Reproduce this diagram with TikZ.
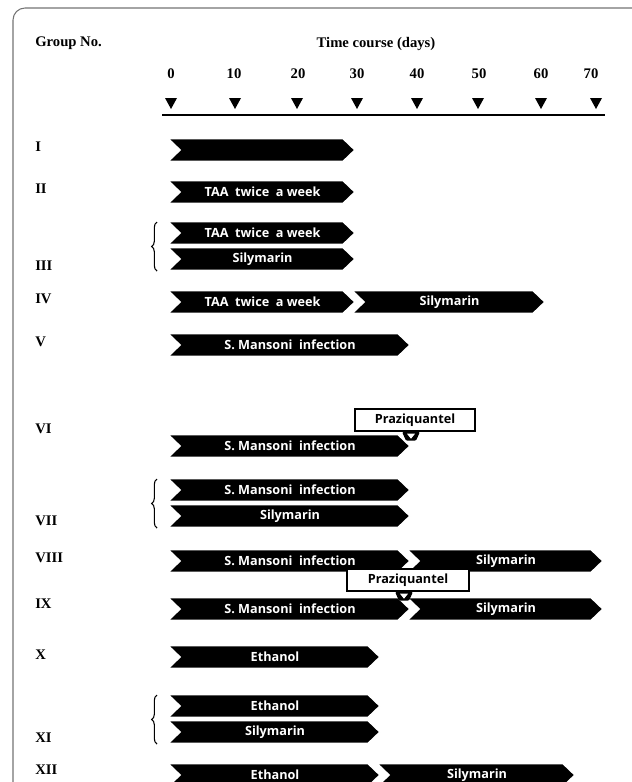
\documentclass[tikz,border=0pt]{standalone}
\usepackage{fontspec}
\setmainfont{Liberation Serif}
\newfontfamily\barfont{Open Sans}
\usetikzlibrary{decorations.pathreplacing}
\begin{document}
\begin{tikzpicture}[x=0.75pt,y=-0.75pt]
\useasboundingbox (0,0) rectangle (632,782);
\tikzset{
 hdr/.style={font=\bfseries\fontsize{11}{13}\selectfont, inner sep=0},
 grp/.style={hdr, anchor=west},
 bartext/.style={text=white, font=\barfont\bfseries\fontsize{9.5}{11}\selectfont, inner sep=0},
 barshape/.style={fill=black, draw=white, line width=1.2pt, line join=miter},
 daytri/.style={fill=black},
 pzbox/.style={draw=black, line width=1.6pt, fill=white, inner sep=0, minimum height=16pt,
   font=\barfont\bfseries\fontsize{9.5}{11}\selectfont},
 grpbrace/.style={decorate, decoration={brace, amplitude=4pt}, line width=0.8pt},
 frame/.style={draw=black!55, line width=0.8pt, rounded corners=9pt}
}
\newcommand\chevbar[5]{%
 \path[barshape] (#2,#4-11.5) -- (#3-12,#4-11.5) -- (#3,#4) -- (#3-12,#4+11.5) -- (#2,#4+11.5) -- (#2+12,#4) -- cycle;
 \node[bartext] (#1) at ({(#2+#3)/2+1},#4) {#5};
}
\newcommand\pzpointer[2]{% name of box, x
 \path[fill=black, rounded corners=1pt] (#2-9,0 |- #1.south) -- ++(18,0) -- ++(-4,9) -- ++(-10,0) -- cycle;
 \path[fill=white] (#2-4,0 |- #1.south) ++(0,2) -- ++(8,0) -- ++(-4,5) -- cycle;
}
% frame
\draw[frame] (13,800) -- (13,8) -- (650,8);
% header
\node[grp] (hgroup) at (35,43) {Group No.};
\node[hdr] (htime) at (376,44) {Time course (days)};
\foreach \lab/\xx/\tx in {0/171/171, 10/234/235, 20/298/297, 30/357/357, 40/417/417, 50/479/478, 60/541/541, 70/591/596}{
 \node[hdr] (d\lab) at (\xx,74) {\lab};
 \path[daytri] (\tx-6,98) -- (\tx+6,98) -- (\tx,109) -- cycle;
}
\coordinate (axl) at (162,115);
\coordinate (axr) at (605,115);
\draw[line width=1.5pt] (axl) -- (axr);
% group labels
\node[grp] (gI) at (35,147) {I};
\node[grp] (gII) at (35,189) {II};
\node[grp] (gIII) at (35,266) {III};
\node[grp] (gIV) at (35,299) {IV};
\node[grp] (gV) at (35,342) {V};
\node[grp] (gVI) at (35,429) {VI};
\node[grp] (gVII) at (35,521) {VII};
\node[grp] (gVIII) at (35,558) {VIII};
\node[grp] (gIX) at (35,604) {IX};
\node[grp] (gX) at (35,655) {X};
\node[grp] (gXI) at (35,738) {XI};
\node[grp] (gXII) at (35,770) {XII};
% bars
\chevbar{bI}{168}{355}{150}{}
\chevbar{bII}{168}{355}{192}{TAA\ \ twice\ \ a week}
\chevbar{bIIIa}{168}{355}{233}{TAA\ \ twice\ \ a week}
\chevbar{bIIIb}{168}{355}{259}{Silymarin}
\chevbar{bIVa}{168}{355}{302}{TAA\ \ twice\ \ a week}
\chevbar{bIVb}{352}{545}{302}{Silymarin}
\chevbar{bV}{168}{410}{345}{S. Mansoni\ \ infection}
\chevbar{bVI}{168}{410}{446}{S. Mansoni\ \ infection}
\chevbar{bVIIa}{168}{410}{490}{S. Mansoni\ \ infection}
\chevbar{bVIIb}{168}{410}{516}{Silymarin}
\chevbar{bVIIIa}{168}{410}{561}{S. Mansoni\ \ infection}
\chevbar{bVIIIb}{407}{603}{561}{Silymarin}
\chevbar{bIXa}{168}{410}{609}{S. Mansoni\ \ infection}
\chevbar{bIXb}{407}{603}{609}{Silymarin}
\chevbar{bX}{168}{380}{657}{Ethanol}
\chevbar{bXIa}{168}{380}{706}{Ethanol}
\chevbar{bXIb}{168}{380}{732}{Silymarin}
\chevbar{bXIIa}{168}{380}{775}{Ethanol}
\chevbar{bXIIb}{377}{575}{775}{Silymarin}
% praziquantel
\node[pzbox, minimum width=90pt] (pzVI) at (415,420) {Praziquantel};
\pzpointer{pzVI}{411}
\node[pzbox, minimum width=92pt] (pzIX) at (408,580) {Praziquantel};
\pzpointer{pzIX}{404}
% braces
\draw[grpbrace] (157,271) -- (157,222);
\draw[grpbrace] (157,528) -- (157,479);
\draw[grpbrace] (157,744) -- (157,695);
\end{tikzpicture}
\end{document}
